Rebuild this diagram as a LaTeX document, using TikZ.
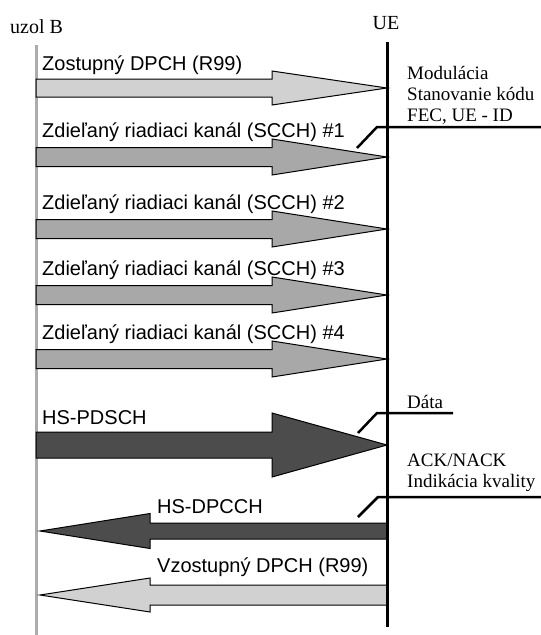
\documentclass[tikz,border=0pt]{standalone}
\usepackage{fontspec}
\setmainfont{Liberation Serif}
\setsansfont{Liberation Sans}
\usetikzlibrary{calc,positioning}

\definecolor{dpchgray}{gray}{0.82}
\definecolor{scchgray}{gray}{0.66}
\definecolor{hsgray}{gray}{0.30}

% wide channel arrow: #1 tail, #2 tip, #3 half shaft, #4 half head, #5 head length, #6 fill
\newcommand{\chanarrow}[6]{%
  \coordinate (hb) at ($(#2)!#5!(#1)$);
  \filldraw[fill=#6,draw=black,line width=1pt,line join=miter]
    ($(#1)+(0,#3)$) -- ($(hb)+(0,#3)$) -- ($(hb)+(0,#4)$) -- (#2)
    -- ($(hb)+(0,-#4)$) -- ($(hb)+(0,-#3)$) -- ($(#1)+(0,-#3)$) -- cycle;}

\begin{document}
\begin{tikzpicture}[x=1pt,y=-1pt,
  chan/.style={font=\sffamily\fontsize{20}{24}\selectfont,anchor=west,inner sep=0pt},
  note/.style={font=\fontsize{19}{21}\selectfont,anchor=west,align=left,inner sep=0pt},
  entity/.style={font=\fontsize{20}{24}\selectfont,inner sep=0pt},
  marker/.style={line width=2.5pt}]
    \useasboundingbox (0,0) rectangle (541,635);
    \node[entity,anchor=west](nodeB) at (10,27) {uzol B};
    \node[entity](ue) at (386,23) {UE};
    \coordinate (Btop) at (36,45);
    \coordinate (Bbot) at (36,635);
    \coordinate (UEtop) at (387,42);
    \coordinate (UEbot) at (387,627);
    \draw[gray!65,line width=3pt] (Btop) -- (Bbot);

    % downlink
    \coordinate (b0) at (36,88);
    \coordinate (u0) at (387,88);
    \chanarrow{b0}{u0}{9}{17}{115pt}{dpchgray}
    \node[chan] at (42,65) {Zostupný DPCH (R99)};
    \foreach \k/\y in {1/157,2/229,3/295,4/359}{
      \coordinate (b\k) at (36,\y);
      \coordinate (u\k) at (387,\y);
      \chanarrow{b\k}{u\k}{9.5}{18}{115pt}{scchgray}
      \node[chan] at (42,\y-25) {Zdieľaný riadiaci kanál (SCCH) \#\k};
    }
    \coordinate (b5) at (36,445);
    \coordinate (u5) at (387,445);
    \chanarrow{b5}{u5}{13}{32}{115pt}{hsgray}
    \node[chan] at (42,418) {HS-PDSCH};

    % uplink
    \coordinate (u6) at (388,531);
    \coordinate (b6) at (40,531);
    \chanarrow{u6}{b6}{8}{17.5}{110pt}{hsgray}
    \node[chan] at (157,507) {HS-DPCCH};
    \coordinate (u7) at (388,595);
    \coordinate (b7) at (40,595);
    \chanarrow{u7}{b7}{10}{17}{110pt}{dpchgray}
    \node[chan] at (157,567) {Vzostupný DPCH (R99)};

    \draw[line width=3pt] (UEtop) -- (UEbot);

    % notes at UE
    \node[note](mod) at (407,95) {Modulácia\\Stanovanie kódu\\FEC, UE - ID};
    \coordinate (m1) at (357,148);
    \coordinate (m2) at (377,127);
    \coordinate (m3) at (541,127);
    \draw[marker] (m1) -- (m2) -- (m3);
    \node[note](data) at (407,402) {Dáta};
    \coordinate (d1) at (358,433);
    \coordinate (d2) at (377,413);
    \coordinate (d3) at (453,413);
    \draw[marker] (d1) -- (d2) -- (d3);
    \node[note](ack) at (407,473) {ACK/NACK\\Indikácia kvality};
    \coordinate (a1) at (358,517);
    \coordinate (a2) at (378,497);
    \coordinate (a3) at (541,497);
    \draw[marker] (a1) -- (a2) -- (a3);
\end{tikzpicture}
\end{document}
